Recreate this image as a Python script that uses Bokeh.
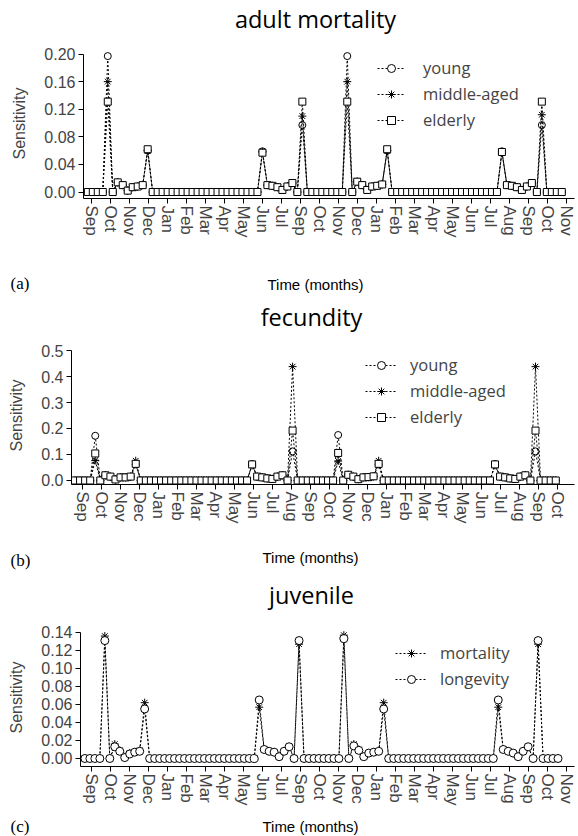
from bokeh.plotting import figure
from bokeh.models import Range1d, FixedTicker, Label, Legend, LegendItem, PrintfTickFormatter
from bokeh.layouts import column
from bokeh.embed import file_html
from bokeh.resources import INLINE

# ---------------- tick labels ----------------
months_a = ["Sep", "Oct", "Nov", "Dec", "Jan", "Feb", "Mar", "Apr", "May", "Jun", "Jul", "Sep", "Oct",
            "Nov", "Dec", "Jan", "Feb", "Mar", "Apr", "May", "Jun", "Jul", "Aug", "Sep", "Oct", "Nov"]
months_b = ["Sep", "Oct", "Nov", "Dec", "Jan", "Feb", "Mar", "Apr", "May", "Jun", "Jul", "Aug", "Sep",
            "Oct", "Nov", "Dec", "Jan", "Feb", "Mar", "Apr", "May", "Jun", "Jul", "Aug", "Sep", "Oct"]
months_c = ["Sep", "Oct", "Nov", "Dec", "Jan", "Feb", "Mar", "Apr", "May", "Jun", "Jul", "Sep", "Oct",
            "Nov", "Dec", "Jan", "Feb", "Mar", "Apr", "May", "Jun", "Jul", "Aug", "Sep", "Oct", "Nov"]

yticks_a = [0.0, 0.04, 0.08, 0.12, 0.16, 0.20]
yticks_b = [0.0, 0.1, 0.2, 0.3, 0.4, 0.5]
yticks_c = [0.0, 0.02, 0.04, 0.06, 0.08, 0.10, 0.12, 0.14]

# ---------------- (a) adult mortality: one value per time step ----------------
young_a = [0, 0, 0, 0, 0.197, 0, 0.014, 0.010, 0.002, 0.007, 0.008, 0.010,
           0.060, 0, 0, 0, 0, 0, 0, 0, 0, 0, 0, 0,
           0, 0, 0, 0, 0, 0, 0, 0, 0, 0, 0, 0.059,
           0.010, 0.009, 0.007, 0.003, 0.008, 0.013, 0, 0.097, 0, 0, 0, 0,
           0, 0, 0, 0, 0.197, 0, 0.015, 0.010, 0.003, 0.008, 0.009, 0.011,
           0.060, 0, 0, 0, 0, 0, 0, 0, 0, 0, 0, 0,
           0, 0, 0, 0, 0, 0, 0, 0, 0, 0, 0, 0.059,
           0.010, 0.009, 0.007, 0.003, 0.008, 0.013, 0, 0.097, 0, 0, 0, 0]
middle_a = [0, 0, 0, 0, 0.160, 0, 0.014, 0.010, 0.002, 0.007, 0.008, 0.010,
            0.060, 0, 0, 0, 0, 0, 0, 0, 0, 0, 0, 0,
            0, 0, 0, 0, 0, 0, 0, 0, 0, 0, 0, 0.058,
            0.010, 0.009, 0.007, 0.003, 0.008, 0.013, 0, 0.110, 0, 0, 0, 0,
            0, 0, 0, 0, 0.160, 0, 0.015, 0.010, 0.003, 0.008, 0.009, 0.011,
            0.060, 0, 0, 0, 0, 0, 0, 0, 0, 0, 0, 0,
            0, 0, 0, 0, 0, 0, 0, 0, 0, 0, 0, 0.058,
            0.010, 0.009, 0.007, 0.003, 0.008, 0.013, 0, 0.112, 0, 0, 0, 0]
elderly_a = [0, 0, 0, 0, 0.131, 0, 0.014, 0.010, 0.002, 0.007, 0.008, 0.010,
             0.062, 0, 0, 0, 0, 0, 0, 0, 0, 0, 0, 0,
             0, 0, 0, 0, 0, 0, 0, 0, 0, 0, 0, 0.057,
             0.010, 0.009, 0.007, 0.003, 0.008, 0.013, 0, 0.131, 0, 0, 0, 0,
             0, 0, 0, 0, 0.131, 0, 0.015, 0.010, 0.003, 0.008, 0.009, 0.011,
             0.062, 0, 0, 0, 0, 0, 0, 0, 0, 0, 0, 0,
             0, 0, 0, 0, 0, 0, 0, 0, 0, 0, 0, 0.058,
             0.010, 0.009, 0.007, 0.003, 0.008, 0.013, 0, 0.131, 0, 0, 0, 0]

# ---------------- (b) fecundity ----------------
young_b = [0, 0, 0, 0, 0.172, 0, 0.020, 0.015, 0.004, 0.012, 0.012, 0.015,
           0.062, 0, 0, 0, 0, 0, 0, 0, 0, 0, 0, 0,
           0, 0, 0, 0, 0, 0, 0, 0, 0, 0, 0, 0.063,
           0.015, 0.012, 0.008, 0.006, 0.015, 0.020, 0, 0.112, 0, 0, 0, 0,
           0, 0, 0, 0, 0.175, 0, 0.022, 0.015, 0.005, 0.012, 0.013, 0.016,
           0.062, 0, 0, 0, 0, 0, 0, 0, 0, 0, 0, 0,
           0, 0, 0, 0, 0, 0, 0, 0, 0, 0, 0, 0.063,
           0.015, 0.012, 0.008, 0.006, 0.015, 0.020, 0, 0.112, 0, 0, 0, 0]
middle_b = [0, 0, 0, 0, 0.077, 0, 0.020, 0.015, 0.004, 0.012, 0.012, 0.015,
            0.076, 0, 0, 0, 0, 0, 0, 0, 0, 0, 0, 0,
            0, 0, 0, 0, 0, 0, 0, 0, 0, 0, 0, 0.058,
            0.015, 0.012, 0.008, 0.006, 0.015, 0.020, 0, 0.438, 0, 0, 0, 0,
            0, 0, 0, 0, 0.075, 0, 0.022, 0.015, 0.005, 0.012, 0.013, 0.016,
            0.076, 0, 0, 0, 0, 0, 0, 0, 0, 0, 0, 0,
            0, 0, 0, 0, 0, 0, 0, 0, 0, 0, 0, 0.058,
            0.015, 0.012, 0.008, 0.006, 0.015, 0.020, 0, 0.438, 0, 0, 0, 0]
elderly_b = [0, 0, 0, 0, 0.104, 0, 0.020, 0.015, 0.004, 0.012, 0.012, 0.015,
             0.064, 0, 0, 0, 0, 0, 0, 0, 0, 0, 0, 0,
             0, 0, 0, 0, 0, 0, 0, 0, 0, 0, 0, 0.062,
             0.015, 0.012, 0.008, 0.006, 0.015, 0.020, 0, 0.192, 0, 0, 0, 0,
             0, 0, 0, 0, 0.106, 0, 0.022, 0.015, 0.005, 0.012, 0.013, 0.016,
             0.064, 0, 0, 0, 0, 0, 0, 0, 0, 0, 0, 0,
             0, 0, 0, 0, 0, 0, 0, 0, 0, 0, 0, 0.062,
             0.015, 0.012, 0.008, 0.006, 0.015, 0.020, 0, 0.192, 0, 0, 0, 0]

# ---------------- (c) juvenile ----------------
mortality_c = [0, 0, 0, 0, 0.136, 0, 0.016, 0.009, 0.002, 0.006, 0.007, 0.009,
               0.062, 0, 0, 0, 0, 0, 0, 0, 0, 0, 0, 0,
               0, 0, 0, 0, 0, 0, 0, 0, 0, 0, 0, 0.057,
               0.010, 0.008, 0.007, 0.002, 0.008, 0.013, 0, 0.127, 0, 0, 0, 0,
               0, 0, 0, 0, 0.137, 0, 0.016, 0.010, 0.002, 0.006, 0.007, 0.008,
               0.062, 0, 0, 0, 0, 0, 0, 0, 0, 0, 0, 0,
               0, 0, 0, 0, 0, 0, 0, 0, 0, 0, 0, 0.057,
               0.010, 0.008, 0.006, 0.002, 0.008, 0.013, 0, 0.127, 0, 0, 0, 0]
longevity_c = [0, 0, 0, 0, 0.131, 0, 0.013, 0.008, 0.001, 0.005, 0.007, 0.008,
               0.055, 0, 0, 0, 0, 0, 0, 0, 0, 0, 0, 0,
               0, 0, 0, 0, 0, 0, 0, 0, 0, 0, 0, 0.065,
               0.010, 0.008, 0.007, 0.002, 0.008, 0.013, 0, 0.131, 0, 0, 0, 0,
               0, 0, 0, 0, 0.133, 0, 0.014, 0.009, 0.002, 0.006, 0.007, 0.008,
               0.055, 0, 0, 0, 0, 0, 0, 0, 0, 0, 0, 0,
               0, 0, 0, 0, 0, 0, 0, 0, 0, 0, 0, 0.065,
               0.010, 0.008, 0.006, 0.002, 0.008, 0.013, 0, 0.131, 0, 0, 0, 0]

# ---------------- styling / layout ----------------
W = 578
TICK_FONT = "Liberation Sans"
TEXT_FONT = "Open Sans"
SERIF = "Liberation Serif"
DASH = "2 2"


def text_row(height, texts):
    """A figure without axes whose frame is the whole strip; texts are placed in pixel-like data units."""
    t = figure(width=W, height=height, output_backend="svg", toolbar_location=None,
               x_range=Range1d(0, W), y_range=Range1d(height, 0),
               x_axis_location=None, y_axis_location=None, min_border=0,
               frame_align=False)
    t.outline_line_color = None
    t.xgrid.grid_line_color = None
    t.ygrid.grid_line_color = None
    for text, x, y, align, font, size in texts:
        t.add_layout(Label(x=x, y=y, text=text, text_align=align, text_baseline="middle",
                           text_font=font, text_font_size=size, text_color="black"))
    return t


def make_panel(months, yticks, yfmt, series, height, border, xmap, xr, yr,
               legend_loc, glyph_w, standoff):
    p = figure(width=W, height=height, output_backend="svg", toolbar_location=None,
               x_range=Range1d(*xr), y_range=Range1d(*yr),
               min_border_left=border[0], min_border_right=border[1],
               min_border_top=border[2], min_border_bottom=border[3],
               frame_align=False)
    p.outline_line_color = None
    p.xgrid.grid_line_color = None
    p.ygrid.grid_line_color = None

    x0, dx = xmap
    n = len(series[0][1])
    xs = [x0 + dx * k for k in range(n)]

    items = []
    for label, ys, marker, msize in series:
        lr = p.line(xs, ys, line_color="black", line_width=1, line_dash=DASH)
        sr = p.scatter(xs, ys, marker=marker, size=msize, fill_color="white",
                       line_color="black", line_width=1)
        items.append((label, [lr, sr]))

    legend = Legend(items=[LegendItem(label=l, renderers=r) for l, r in items],
                    location=legend_loc, border_line_color=None, background_fill_alpha=0,
                    padding=0, margin=0, spacing=3, glyph_width=glyph_w, glyph_height=20,
                    label_height=20, label_standoff=standoff,
                    label_text_font=TEXT_FONT, label_text_font_size="16.5px")
    p.add_layout(legend)

    p.xaxis.ticker = FixedTicker(ticks=list(range(len(months))))
    p.xaxis.major_label_overrides = {i: m for i, m in enumerate(months)}
    p.xaxis.major_label_orientation = "vertical"
    p.xaxis.major_label_text_font = TICK_FONT
    p.xaxis.major_label_text_font_size = "17px"
    p.xaxis.major_label_standoff = 2
    p.xaxis.major_tick_in = 0
    p.xaxis.major_tick_out = 5
    p.xaxis.minor_tick_line_color = None

    p.yaxis.ticker = FixedTicker(ticks=yticks)
    p.yaxis.formatter = PrintfTickFormatter(format=yfmt)
    p.yaxis.bounds = (yr[0], yticks[-1])
    p.yaxis.major_label_text_font = TICK_FONT
    p.yaxis.major_label_text_font_size = "16px"
    p.yaxis.major_label_standoff = 3
    p.yaxis.major_tick_in = 0
    p.yaxis.major_tick_out = 5
    p.yaxis.minor_tick_line_color = None
    p.yaxis.axis_label = "Sensitivity"
    p.yaxis.axis_label_text_font = TICK_FONT
    p.yaxis.axis_label_text_font_size = "16px"
    p.yaxis.axis_label_text_font_style = "normal"
    p.yaxis.axis_label_standoff = 13
    return p


title_a = text_row(40, [("adult mortality", 315, 18, "center", TEXT_FONT, "23.5px")])
pa = make_panel(months_a, yticks_a, "%.2f",
                [("young", young_a, "circle", 7), ("middle-aged", middle_a, "asterisk", 8),
                 ("elderly", elderly_a, "square", 7)],
                height=222, border=(83, 4, 8, 64), xmap=(-0.168, 0.2626),
                xr=(-0.395, 25.447), yr=(-0.0094, 0.208),
                legend_loc=(294, 67), glyph_w=28, standoff=18)
foot_a = text_row(38, [("(a)", 10, 21, "left", SERIF, "17px"),
                       ("Time (months)", 315, 22, "center", TICK_FONT, "15px")])

title_b = text_row(35, [("fecundity", 311, 16, "center", TEXT_FONT, "23.5px")])
pb = make_panel(months_b, yticks_b, "%.1f",
                [("young", young_b, "circle", 7), ("middle-aged", middle_b, "asterisk", 8),
                 ("elderly", elderly_b, "square", 7)],
                height=195, border=(71, 4, 11, 46), xmap=(-0.395, 0.2663),
                xr=(-0.579, 25.89), yr=(-0.0154, 0.5154),
                legend_loc=(294, 56), glyph_w=32, standoff=13)
foot_b = text_row(45, [("(b)", 10, 30, "left", SERIF, "17px"),
                       ("Time (months)", 310, 27, "center", TICK_FONT, "15px")])

title_c = text_row(37, [("juvenile", 311, 19, "center", TEXT_FONT, "23.5px")])
pc = make_panel(months_c, yticks_c, "%.2f",
                [("mortality", mortality_c, "asterisk", 8), ("longevity", longevity_c, "circle", 8)],
                height=196, border=(80, 4, 16, 42), xmap=(-0.347, 0.2621),
                xr=(-0.579, 25.42), yr=(-0.0089, 0.1444),
                legend_loc=(315, 76), glyph_w=32, standoff=13)
foot_c = text_row(28, [("(c)", 10, 18, "left", SERIF, "17px"),
                       ("Time (months)", 310, 18, "center", TICK_FONT, "15px")])

layout = column(title_a, pa, foot_a, title_b, pb, foot_b, title_c, pc, foot_c, spacing=0)
open("out.html", "w").write(file_html(layout, INLINE))
